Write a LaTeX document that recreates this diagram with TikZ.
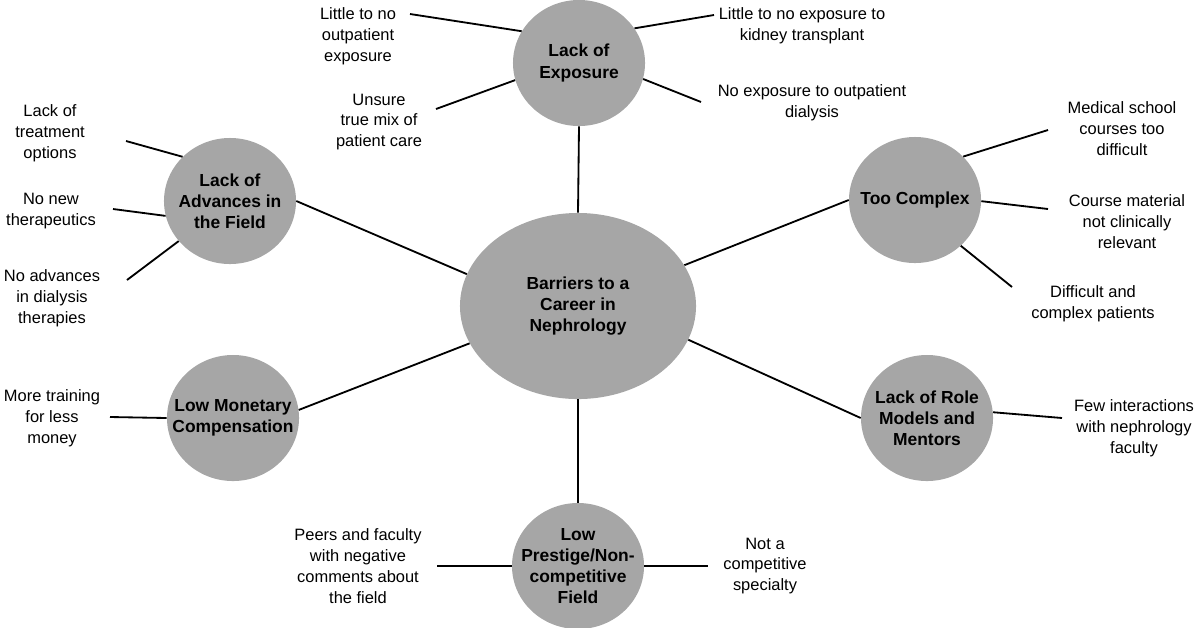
\documentclass[tikz,border=0pt]{standalone}
\usepackage{fontspec}
\setmainfont{Liberation Sans}
\usepackage{tikz}
\usetikzlibrary{shapes.geometric}
\usepackage{xcolor}

\newcommand{\notefont}{\fontsize{11.7}{14.9}\selectfont}
\newcommand{\topicfont}{\fontsize{12.4}{15}\selectfont\bfseries}

\begin{document}
\begin{tikzpicture}[
    x=0.025cm, y=-0.025cm,
    hub/.style = {ellipse, fill=black!35, minimum width=5.9cm, minimum height=4.65cm, inner sep=0pt, align=center, font=\topicfont},
    topic/.style = {ellipse, fill=black!35, minimum width=3.3cm, minimum height=3.15cm, inner xsep=-30pt, inner ysep=-12pt, align=center, font=\topicfont},
    note/.style = {inner sep=0pt, align=center, font=\notefont},
    spoke/.style = {line width=1.3pt, black}
]
    \useasboundingbox (0,0) rectangle (1200,627);

    % 1. Hub and barrier bubbles
    \node [hub] (barriers) at (578,306) {Barriers to a\\Career in\\Nephrology};
    \node [topic] (exposure) at (579,63) {Lack of\\Exposure};
    \node [topic] (advances) at (230,201) {Lack of\\Advances in\\the Field};
    \node [topic] (complex) at (915,200) {Too Complex};
    \node [topic] (mentors) at (927,418) {Lack of Role\\Models and\\Mentors};
    \node [topic] (money) at (233,418) {Low Monetary\\Compensation};
    \node [topic] (prestige) at (578,566) {Low\\Prestige/Non-\\competitive\\Field};

    % 2. Notes
    \node [note] (exp_outpt) at (358,36) {Little to no\\outpatient\\exposure};
    \node [note] (exp_mix) at (379,122) {Unsure\\true mix of\\patient care};
    \node [note] (exp_kidney) at (802,26) {Little to no exposure to\\kidney transplant};
    \node [note] (exp_dial) at (812,103) {No exposure to outpatient\\dialysis};
    \node [note] (adv_treat) at (50,133) {Lack of\\treatment\\options};
    \node [note] (adv_thera) at (51,211) {No new\\therapeutics};
    \node [note] (adv_dial) at (52,298) {No advances\\in dialysis\\therapies};
    \node [note] (cpx_course) at (1122,129) {Medical school\\courses too\\difficult};
    \node [note] (cpx_mater) at (1127,222) {Course material\\not clinically\\relevant};
    \node [note] (cpx_pat) at (1093,304) {Difficult and\\complex patients};
    \node [note] (men_few) at (1134,428) {Few interactions\\with nephrology\\faculty};
    \node [note] (mon_train) at (52,418) {More training\\for less\\money};
    \node [note] (pre_peers) at (358,566) {Peers and faculty\\with negative\\comments about\\the field};
    \node [note] (pre_comp) at (765,566) {Not a\\competitive\\specialty};

    % 3. Free ends of the note spokes
    \coordinate (e_outpt) at (410,14);
    \coordinate (e_mix) at (436,109);
    \coordinate (e_kidney) at (714,15);
    \coordinate (e_dial) at (701,102);
    \coordinate (e_treat) at (126,141);
    \coordinate (e_thera) at (113,209);
    \coordinate (e_adial) at (127,280);
    \coordinate (e_course) at (1048,130);
    \coordinate (e_mater) at (1048,209);
    \coordinate (e_pat) at (1012,287);
    \coordinate (e_few) at (1062,418);
    \coordinate (e_train) at (110,417);
    \coordinate (e_peers) at (437,566);
    \coordinate (e_comp) at (708,566);

    % 4. Hub to bubbles
    \draw [spoke] (barriers.north) -- (exposure.south);
    \draw [spoke] (barriers.164) -- (advances.east);
    \draw [spoke] (barriers.21) -- (complex.west);
    \draw [spoke] (barriers.343) -- (mentors.west);
    \draw [spoke] (barriers.199) -- (money.7);
    \draw [spoke] (barriers.south) -- (prestige.north);

    % 5. Bubbles to notes
    \draw [spoke] (exposure.151) -- (e_outpt);
    \draw [spoke] (exposure.195) -- (e_mix);
    \draw [spoke] (exposure.32) -- (e_kidney);
    \draw [spoke] (exposure.346) -- (e_dial);
    \draw [spoke] (advances.137) -- (e_treat);
    \draw [spoke] (advances.193) -- (e_thera);
    \draw [spoke] (advances.218) -- (e_adial);
    \draw [spoke] (complex.42) -- (e_course);
    \draw [spoke] (complex.359) -- (e_mater);
    \draw [spoke] (complex.315) -- (e_pat);
    \draw [spoke] (mentors.5) -- (e_few);
    \draw [spoke] (money.west) -- (e_train);
    \draw [spoke] (prestige.west) -- (e_peers);
    \draw [spoke] (prestige.east) -- (e_comp);

\end{tikzpicture}
\end{document}
